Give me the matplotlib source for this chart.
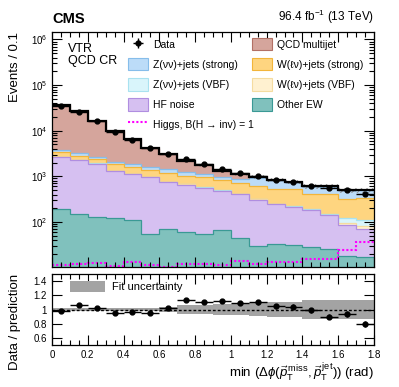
import numpy as np
import matplotlib.pyplot as plt
from matplotlib.ticker import MultipleLocator, LogLocator, NullFormatter, FixedLocator, FixedFormatter
from matplotlib.patches import Patch

plt.rcParams['font.family'] = ['Liberation Sans', 'DejaVu Sans']
plt.rcParams['mathtext.fontset'] = 'custom'
plt.rcParams['mathtext.rm'] = 'Liberation Sans'
plt.rcParams['mathtext.it'] = 'Liberation Sans:italic'
plt.rcParams['mathtext.bf'] = 'Liberation Sans:bold'
plt.rcParams['hatch.linewidth'] = 0.6

# binning of min dphi(ptmiss, jet)
bin_edges = np.linspace(0.0, 1.8, 19)

# values (events per bin)
data = [35500, 25700, 16100, 9500, 6340, 4100, 3030, 2350, 1830, 1440,
        1175, 1025, 837, 757, 610, 570, 490, 421]
data_err = [190, 160, 127, 97, 80, 64, 55, 48, 43, 38, 34, 32, 29, 28, 25, 24, 22, 21]
qcd = [33430, 23495, 13815, 7916, 4696, 2612, 1661, 904, 623, 335,
       250, 50, 15, 23, 10, 22, 5, 8]
z_strong = [420, 360, 335, 256, 314, 250, 261, 246, 171, 160,
            169, 311, 301, 210, 194, 182, 182, 146]
z_vbf = [20, 17, 15, 12, 11, 10, 9, 8, 7, 7, 6, 6, 5, 5, 5, 5, 23, 25]
w_strong = [630, 525, 424, 487, 434, 405, 397, 333, 375, 333,
            281, 288, 270, 301, 216, 257, 196, 236]
w_vbf = [15, 13, 11, 9, 8, 7, 6, 6, 5, 5, 5, 4, 4, 4, 4, 4, 12, 12]
hf_noise = [2495, 2117, 1769, 1195, 1004, 892, 676, 604, 504, 413,
            361, 281, 212, 183, 153, 114, 67, 54]
other_ew = [190, 153, 131, 125, 113, 54, 70, 59, 55, 67,
            45, 30, 33, 31, 28, 26, 18, 17]
higgs = [11.3, 11.9, 12.6, 11.0, 13.2, 11.7, 10.5, 12.2, 12.2, 11.3,
         13.9, 12.2, 13.2, 13.2, 15.4, 15.7, 24.7, 35.8]

# ratio panel
ratio = [0.985, 1.066, 1.02, 0.953, 0.96, 0.957, 1.015, 1.137, 1.104, 1.114,
         1.095, 1.1, 1.043, 1.038, 0.986, 0.9, 0.938, 0.796]
ratio_err = [0.006, 0.007, 0.009, 0.011, 0.013, 0.016, 0.018, 0.021, 0.024, 0.027,
             0.029, 0.031, 0.033, 0.034, 0.036, 0.038, 0.04, 0.04]
fit_unc = [0.018, 0.018, 0.018, 0.018, 0.018, 0.018, 0.038, 0.059, 0.069, 0.078,
           0.078, 0.088, 0.107, 0.107, 0.128, 0.128, 0.128, 0.128]

# stack from bottom to top
stack = [
    ('Other EW', other_ew, '#80c1bd', '#3a9995'),
    ('HF noise', hf_noise, '#d6c0f1', '#b08ee0'),
    ('W(ℓν)+jets (VBF)', w_vbf, '#fff1d0', '#f5dca0'),
    ('Z(νν)+jets (VBF)', z_vbf, '#d9f5fb', '#a9e2f0'),
    ('W(ℓν)+jets (strong)', w_strong, '#fed580', '#f2b53a'),
    ('Z(νν)+jets (strong)', z_strong, '#bcdcf8', '#86bdea'),
    ('QCD multijet', qcd, '#d5a59c', '#b27065'),
]

fig = plt.figure(figsize=(3.99, 3.87), dpi=100)
ax = fig.add_axes([0.1303, 0.31, 0.807, 0.607])
axr = fig.add_axes([0.1303, 0.1085, 0.807, 0.1835])

centers = 0.5 * (bin_edges[1:] + bin_edges[:-1])
xerr = 0.5 * np.diff(bin_edges)

tops = np.cumsum([np.array(s[1], dtype=float) for s in stack], axis=0)
handles = {}
for i in reversed(range(len(stack))):
    name, vals, fc, ec = stack[i]
    ax.stairs(tops[i], bin_edges, baseline=1, fill=True, facecolor=fc, lw=0)
    ax.stairs(tops[i], bin_edges, baseline=None, color=ec, lw=0.9)
    handles[name] = Patch(facecolor=fc, edgecolor=ec, lw=0.8)

total = tops[-1]
unc = np.array(fit_unc)
ax.stairs(total * (1 + unc), bin_edges, baseline=total * (1 - unc), fill=True,
          facecolor='none', edgecolor='#8c8c8c', hatch='//////', lw=0)
ax.stairs(total, bin_edges, baseline=None, color='black', lw=1.6)

hl = ax.stairs(higgs, bin_edges, baseline=None, color='#ff00ff', lw=1.5,
               linestyle=(0, (1, 1)))
eb = ax.errorbar(centers, data, xerr=xerr, yerr=data_err, fmt='o', color='black',
                 ms=3.5, lw=1, capsize=0)

ax.set_yscale('log')
ax.set_xlim(0, 1.8)
ax.set_ylim(10.3, 1.45e6)
ax.set_ylabel('Events / 0.1', fontsize=9.5, loc='top')
ax.yaxis.set_label_coords(-0.095, 1.0)
ax.tick_params(labelbottom=False)

for a in (ax, axr):
    a.xaxis.set_major_locator(MultipleLocator(0.2))
    a.xaxis.set_minor_locator(MultipleLocator(0.05))
    a.tick_params(which='both', direction='in', top=True, right=True, labelsize=7)
    a.tick_params(which='major', length=7, width=0.8)
    a.tick_params(which='minor', length=3.5, width=0.8)
    for sp in a.spines.values():
        sp.set_linewidth(0.9)
ax.yaxis.set_major_locator(LogLocator(base=10, numticks=10))
ax.yaxis.set_minor_locator(LogLocator(base=10, subs=np.arange(2, 10), numticks=20))
ax.yaxis.set_minor_formatter(NullFormatter())

# legends
leg_kw = dict(loc='upper left', frameon=False, fontsize=7.5, handlelength=1.9,
              handleheight=1.45, labelspacing=0.74, handletextpad=0.5,
              borderpad=0, borderaxespad=0)
leg1 = ax.legend([eb, handles['Z(νν)+jets (strong)'], handles['Z(νν)+jets (VBF)'],
                  handles['HF noise'], hl],
                 ['Data', 'Z(νν)+jets (strong)', 'Z(νν)+jets (VBF)', 'HF noise',
                  'Higgs, B(H → inv) = 1'],
                 bbox_to_anchor=(0.236, 0.975), **leg_kw)
ax.add_artist(leg1)
ax.legend([handles['QCD multijet'], handles['W(ℓν)+jets (strong)'],
           handles['W(ℓν)+jets (VBF)'], handles['Other EW']],
          ['QCD multijet', 'W(ℓν)+jets (strong)', 'W(ℓν)+jets (VBF)', 'Other EW'],
          bbox_to_anchor=(0.621, 0.975), **leg_kw)

ax.text(0.05, 0.955, 'VTR\nQCD CR', transform=ax.transAxes, fontsize=9,
        va='top', ha='left', linespacing=1.0)
ax.text(0.0, 1.025, 'CMS', transform=ax.transAxes, fontsize=10.5,
        fontweight='bold', ha='left', va='bottom')
ax.text(1.0, 1.025, r'96.4 fb$^{-1}$ (13 TeV)', transform=ax.transAxes,
        fontsize=8.5, ha='right', va='bottom')

# ratio panel
axr.stairs(1 + unc, bin_edges, baseline=1 - unc, fill=True, color='#a3a3a3', lw=0)
axr.axhline(1.0, color='black', lw=1, linestyle=(0, (2, 1.5)))
axr.errorbar(centers, ratio, xerr=xerr, yerr=ratio_err, fmt='o', color='black',
             ms=3.5, lw=1, capsize=0)
axr.set_xlim(0, 1.8)
axr.set_ylim(0.5, 1.5)
axr.yaxis.set_major_locator(FixedLocator([0.6, 0.8, 1.0, 1.2, 1.4]))
axr.yaxis.set_major_formatter(FixedFormatter(['0.6', '0.8', '1', '1.2', '1.4']))
axr.xaxis.set_major_formatter(plt.FuncFormatter(lambda v, p: f'{v:g}'))
axr.legend([Patch(facecolor='#a3a3a3', lw=0)], ['Fit uncertainty'], loc='upper left',
           bbox_to_anchor=(0.055, 0.9), frameon=False, fontsize=8,
           handlelength=3.2, handleheight=1.1, handletextpad=0.6,
           borderpad=0, borderaxespad=0)
axr.set_ylabel('Data / prediction', fontsize=9.5, loc='top')
axr.yaxis.set_label_coords(-0.095, 1.0)
axr.set_xlabel(r'min ($\Delta\phi(\vec{p}_{\mathrm{T}}^{\,\mathrm{miss}}, \vec{p}_{\mathrm{T}}^{\,\mathrm{jet}})$) (rad)',
               fontsize=9.5, loc='right', labelpad=1)

fig.savefig('out.png', dpi=100)
